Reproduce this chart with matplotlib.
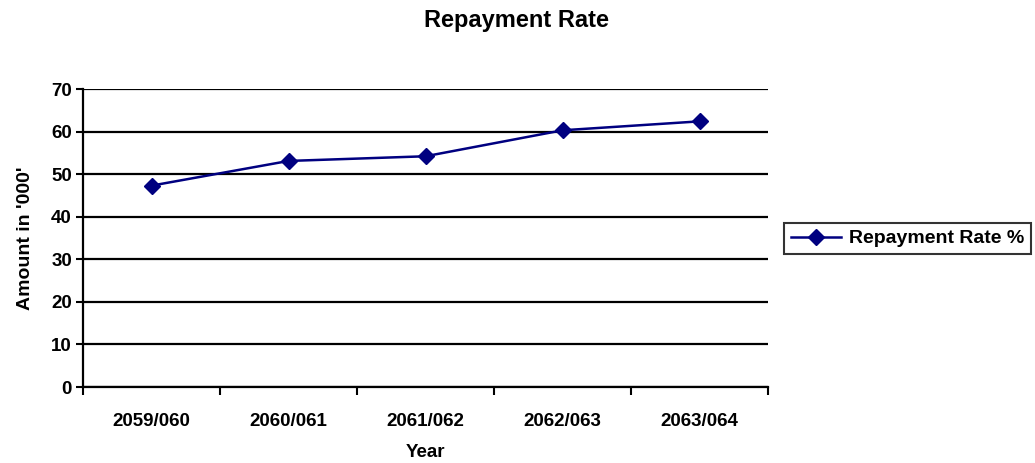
import matplotlib
matplotlib.use("Agg")
import matplotlib.pyplot as plt
import numpy as np

years = ["2059/060", "2060/061", "2061/062", "2062/063", "2063/064"]
repayment_rate = [47.3, 53.1, 54.2, 60.3, 62.4]
y_ticks = [0, 10, 20, 30, 40, 50, 60, 70]

plt.rcParams["font.family"] = ["Liberation Sans", "DejaVu Sans"]
plt.rcParams["font.weight"] = "bold"

fig = plt.figure(figsize=(10.35, 4.63), dpi=100)
ax = fig.add_axes([83 / 1035, 76 / 463, (768 - 83) / 1035, (387 - 89) / 463])

x = np.arange(len(years))
ax.plot(x, repayment_rate, color="#000080", lw=1.8, marker="D", ms=8.5,
        markerfacecolor="#000080", markeredgecolor="#000080",
        label="Repayment Rate %", zorder=3)

ax.set_xlim(-0.5, len(years) - 0.5)
ax.set_ylim(0, 70)
ax.set_yticks(y_ticks)
ax.yaxis.grid(True, color="black", lw=1.6)
ax.set_axisbelow(True)

# category labels centered, tick marks at the category boundaries
ax.set_xticks(x)
ax.set_xticklabels(years, fontsize=13.5, fontweight="bold")
ax.set_xticks(np.arange(len(years) + 1) - 0.5, minor=True)
ax.tick_params(axis="x", which="major", length=0, pad=19)
ax.tick_params(axis="x", which="minor", length=6, width=1.5, direction="out")
ax.tick_params(axis="y", length=5, width=1.5, direction="out", labelsize=13.5, pad=3)
for lbl in ax.get_yticklabels():
    lbl.set_fontweight("bold")

for side in ("top", "right"):
    ax.spines[side].set_visible(False)
for side in ("left", "bottom"):
    ax.spines[side].set_linewidth(1.6)
    ax.spines[side].set_color("black")

ax.set_xlabel("Year", fontsize=13.5, fontweight="bold", labelpad=10)
ax.set_ylabel("Amount in '000'", fontsize=14, fontweight="bold", labelpad=12)
fig.text(0.499, 1 - 20 / 463, "Repayment Rate", fontsize=17, fontweight="bold",
         ha="center", va="center")

leg = ax.legend(loc="center left", bbox_to_anchor=(784 / 1035, 1 - 238.5 / 463),
                bbox_transform=fig.transFigure, frameon=True, fancybox=False,
                edgecolor="black", handlelength=2.6, handletextpad=0.4,
                borderpad=0.35, borderaxespad=0,
                prop={"weight": "bold", "size": 14})
leg.get_frame().set_linewidth(1.5)

fig.savefig("out.png", dpi=100)
